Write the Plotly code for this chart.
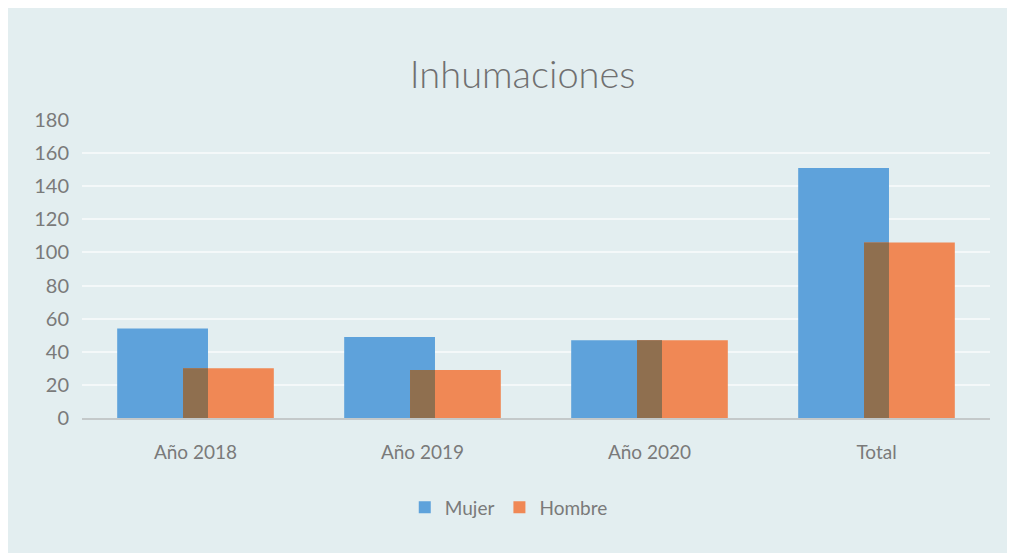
import plotly.graph_objects as go

categories = ["Año 2018", "Año 2019", "Año 2020", "Total"]
mujer = [54, 49, 47, 151]
hombre = [30, 29, 47, 106]
y_ticks = [0, 20, 40, 60, 80, 100, 120, 140, 160, 180]

overlap = [min(m, h) for m, h in zip(mujer, hombre)]

BLUE = "#5ea2db"
ORANGE = "#f08855"
BROWN = "#8f6f4f"
BG = "#e3eef0"

fig = go.Figure()
fig.add_trace(go.Bar(x=categories, y=mujer, name="Mujer", marker_color=BLUE,
                     width=0.4, offset=-0.345, marker_line_width=0))
fig.add_trace(go.Bar(x=categories, y=hombre, name="Hombre", marker_color=ORANGE,
                     width=0.4, offset=-0.055, marker_line_width=0))
fig.add_trace(go.Bar(x=categories, y=overlap, name="overlap", marker_color=BROWN,
                     width=0.11, offset=-0.055, marker_line_width=0,
                     showlegend=False, hoverinfo="skip"))

fig.update_layout(
    width=1015, height=553,
    barmode="overlay",
    paper_bgcolor=BG, plot_bgcolor=BG,
    margin=dict(l=74, r=33, t=112, b=143),
    font=dict(family="Lato, Open Sans, sans-serif", color="#7a7a7a"),
    title=dict(text="Inhumaciones", x=0.507, xanchor="center",
               y=1 - 67 / 553, yanchor="middle", yref="container",
               font=dict(size=38, color="#707070", family="Lato, Open Sans, sans-serif",
                         weight=300)),
    legend=dict(orientation="h", x=0.47, xanchor="center", y=-0.30, yanchor="middle",
                font=dict(size=19, color="#7a7a7a"), bgcolor="rgba(0,0,0,0)",
                itemwidth=30, traceorder="normal"),
    showlegend=True,
)
fig.update_yaxes(range=[0, 180], tickvals=y_ticks, showgrid=True, gridcolor="#f4f8f9",
                 gridwidth=1.5, zeroline=False, showline=False,
                 tickfont=dict(size=20, color="#7a7a7a"), ticks="", ticklabelstandoff=12)
fig.update_xaxes(showline=True, linecolor="#c4c9ca", linewidth=1.5, showgrid=False,
                 ticks="outside", ticklen=16, tickcolor="rgba(0,0,0,0)",
                 tickfont=dict(size=19, color="#7a7a7a"))

fig.write_html("out.html")
